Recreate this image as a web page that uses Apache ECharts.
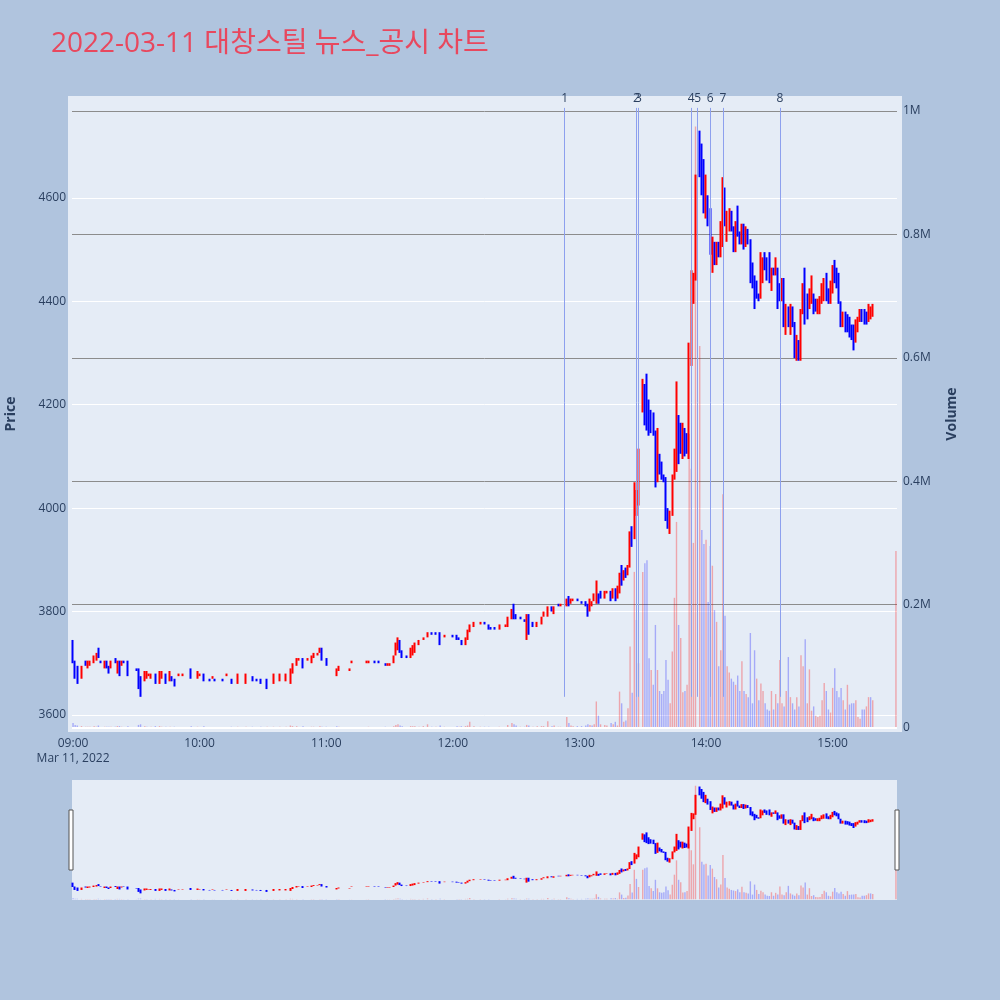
<!DOCTYPE html>
<html><head><meta charset="utf-8">
<script src="https://cdn.jsdelivr.net/npm/echarts@6/dist/echarts.min.js"></script>
<style>html,body{margin:0;padding:0;background:#b0c4de}#c{width:1000px;height:1000px}</style>
</head><body><div id="c"></div>
<script>
const titleText = '2022-03-11 대창스틸 뉴스_공시 차트';
const times = ['09:00','09:01','09:02','09:04','09:06','09:07','09:08','09:10','09:11','09:12','09:13','09:15','09:16','09:17','09:18','09:20','09:21','09:22','09:23','09:24','09:26','09:30','09:31','09:32','09:34','09:35','09:36','09:37','09:39','09:41','09:42','09:44','09:46','09:47','09:48','09:50','09:52','09:56','09:59',
'10:00','10:02','10:05','10:06','10:07','10:11','10:13','10:15','10:18','10:22','10:25','10:27','10:29','10:32','10:35','10:38','10:41','10:43','10:44','10:46','10:47','10:49','10:51','10:53','10:54','10:56','10:57','10:58',
'11:00','11:05','11:06','11:11','11:12','11:19','11:20','11:23','11:25','11:28','11:29','11:30','11:32','11:33','11:34','11:35','11:36','11:38','11:40','11:41','11:42','11:44','11:46','11:48','11:50','11:52','11:54','11:56',
'12:00','12:02','12:03','12:04','12:06','12:07','12:08','12:10','12:13','12:15','12:17','12:18','12:20','12:22','12:25','12:26','12:28','12:29','12:30','12:32','12:34','12:35','12:36','12:38','12:40','12:42','12:43','12:45','12:47','12:48','12:50','12:51','12:54','12:55','12:56','12:57','12:59',
'13:01','13:03','13:04','13:05','13:06','13:07','13:08','13:09','13:10','13:12','13:13','13:15','13:16','13:17','13:18','13:19','13:20','13:21','13:22','13:23','13:24','13:25','13:26','13:27','13:28','13:30','13:31','13:32','13:33','13:34','13:35','13:36','13:37','13:38','13:39','13:40','13:41','13:42','13:43','13:44','13:45','13:46','13:47','13:48','13:49','13:50','13:51','13:52','13:53','13:54','13:55','13:57','13:58','13:59',
'14:00','14:01','14:02','14:03','14:04','14:05','14:06','14:07','14:08','14:09','14:10','14:11','14:12','14:13','14:14','14:15','14:16','14:17','14:18','14:19','14:20','14:21','14:22','14:23','14:24','14:25','14:26','14:27','14:28','14:29','14:30','14:31','14:32','14:33','14:34','14:35','14:36','14:37','14:38','14:39','14:40','14:41','14:42','14:43','14:44','14:45','14:46','14:47','14:48','14:49','14:50','14:51','14:52','14:53','14:54','14:55','14:56','14:57','14:58','14:59',
'15:00','15:01','15:02','15:03','15:04','15:05','15:06','15:07','15:08','15:09','15:10','15:11','15:12','15:13','15:14','15:15','15:16','15:17','15:18','15:19','15:30'];
const opens = [3740,3705,3690,3675,3705,3690,3695,3700,3705,3725,3705,3690,3705,3695,3690,3710,3685,3705,3695,3705,3705,3690,3685,3670,3665,3670,3675,3670,3680,3660,3670,3680,3665,3675,3670,3675,3675,3690,3670,
3675,3680,3670,3670,3670,3670,3675,3670,3660,3660,3675,3670,3670,3670,3660,3665,3665,3660,3680,3695,3705,3710,3705,3700,3710,3715,3720,3725,
3710,3680,3685,3685,3700,3700,3700,3705,3705,3700,3695,3695,3700,3715,3725,3740,3725,3715,3710,3715,3720,3735,3745,3750,3760,3760,3755,3750,
3755,3755,3750,3745,3735,3745,3760,3770,3775,3780,3775,3770,3770,3765,3770,3770,3785,3810,3795,3790,3785,3750,3790,3780,3770,3775,3790,3790,3810,3795,3815,3810,3810,3830,3815,3820,3825,
3820,3820,3810,3800,3810,3820,3815,3835,3840,3825,3835,3840,3825,3845,3825,3840,3885,3860,3880,3870,3890,3960,3945,3990,4010,4195,4235,4210,4205,4185,4180,4140,4055,4100,4085,4060,4055,3995,3960,3990,4060,4090,4170,4160,4100,4150,4140,4100,4280,4400,4445,4725,4700,4670,
4565,4600,4575,4460,4510,4475,4510,4490,4510,4610,4520,4540,4570,4540,4500,4570,4530,4515,4545,4510,4535,4515,4470,4445,4435,4410,4410,4440,4490,4480,4490,4425,4460,4455,4460,4430,4405,4440,4340,4385,4340,4385,4355,4290,4320,4290,4380,4430,4410,4390,4400,4410,4400,4380,4380,4400,4405,4450,4420,4400,
4420,4475,4460,4450,4395,4355,4375,4370,4365,4350,4350,4325,4345,4365,4380,4380,4375,4365,4370,4375,4475];
const closes = [3705,3675,3665,3690,3695,3705,3705,3715,3720,3710,3700,3705,3690,3685,3705,3700,3705,3680,3705,3700,3675,3685,3655,3650,3685,3680,3680,3680,3660,3685,3685,3660,3685,3665,3655,3680,3680,3675,3680,
3680,3665,3665,3675,3665,3665,3680,3660,3680,3680,3665,3665,3660,3660,3680,3680,3680,3690,3700,3710,3710,3690,3710,3715,3720,3720,3730,3710,
3700,3690,3695,3690,3705,3705,3705,3700,3700,3695,3700,3700,3715,3740,3745,3720,3715,3710,3730,3735,3740,3745,3750,3760,3755,3755,3740,3755,
3750,3745,3745,3740,3750,3765,3775,3780,3780,3775,3765,3765,3765,3775,3775,3790,3805,3790,3785,3785,3780,3790,3765,3770,3780,3790,3800,3810,3800,3810,3810,3815,3825,3810,3825,3825,3820,
3815,3810,3795,3825,3820,3835,3840,3815,3825,3840,3840,3820,3845,3820,3850,3870,3855,3880,3870,3890,3950,3930,4045,4030,4110,4245,4165,4155,4150,4150,4145,4045,4150,4070,4060,4055,3980,3965,3990,4060,4110,4175,4090,4110,4160,4105,4110,4300,4440,4450,4640,4655,4610,4575,
4640,4550,4495,4520,4475,4510,4490,4550,4600,4550,4570,4575,4540,4500,4550,4530,4515,4545,4505,4540,4515,4440,4430,4400,4410,4405,4470,4480,4465,4445,4440,4460,4455,4480,4390,4405,4440,4360,4390,4355,4390,4355,4300,4330,4290,4380,4430,4360,4370,4420,4445,4380,4385,4400,4405,4430,4440,4405,4400,4435,
4465,4440,4430,4400,4355,4375,4345,4345,4335,4330,4320,4360,4365,4380,4365,4360,4360,4390,4385,4390,4475];
const lows = [3700,3670,3660,3670,3695,3690,3695,3700,3705,3710,3700,3690,3690,3680,3690,3700,3680,3675,3695,3700,3675,3685,3650,3635,3665,3670,3675,3670,3660,3660,3670,3660,3665,3665,3655,3675,3675,3670,3670,
3675,3665,3665,3670,3665,3665,3675,3660,3660,3660,3665,3665,3660,3650,3660,3665,3665,3660,3680,3695,3705,3690,3705,3700,3710,3715,3720,3705,
3695,3675,3685,3685,3700,3700,3700,3700,3700,3695,3695,3695,3700,3715,3725,3720,3710,3710,3710,3715,3720,3735,3745,3750,3755,3755,3735,3750,
3750,3745,3745,3735,3735,3745,3760,3770,3775,3775,3765,3765,3765,3765,3770,3770,3785,3785,3785,3785,3780,3745,3755,3770,3770,3775,3790,3790,3800,3795,3810,3810,3810,3810,3815,3820,3820,
3815,3810,3790,3800,3810,3820,3815,3815,3825,3825,3835,3820,3825,3820,3825,3835,3850,3860,3865,3870,3885,3925,3940,3985,4005,4185,4160,4150,4140,4145,4140,4040,4050,4065,4055,4050,3975,3960,3950,3985,4055,4070,4085,4105,4095,4100,4105,4095,4275,4395,4440,4640,4605,4570,
4560,4545,4490,4455,4470,4470,4485,4485,4505,4545,4515,4535,4535,4495,4495,4525,4510,4510,4500,4505,4510,4435,4425,4385,4405,4400,4405,4435,4460,4440,4435,4420,4450,4450,4385,4400,4400,4350,4335,4350,4335,4350,4290,4285,4285,4285,4375,4355,4365,4385,4395,4375,4380,4375,4375,4395,4400,4400,4395,4395,
4415,4435,4425,4395,4350,4350,4340,4340,4330,4325,4305,4320,4340,4360,4360,4355,4355,4360,4365,4370,4475];
const highs = [3745,3705,3695,3695,3705,3705,3705,3715,3720,3730,3705,3705,3705,3695,3705,3710,3705,3705,3705,3705,3705,3690,3690,3675,3685,3685,3680,3680,3680,3685,3685,3680,3685,3675,3670,3680,3680,3690,3685,
3680,3680,3670,3675,3670,3670,3680,3670,3680,3680,3675,3670,3670,3670,3680,3680,3680,3690,3700,3710,3710,3710,3710,3715,3720,3720,3730,3730,
3710,3690,3695,3690,3705,3705,3705,3705,3705,3700,3700,3700,3715,3740,3750,3745,3725,3715,3730,3735,3740,3745,3750,3760,3760,3760,3760,3755,
3755,3755,3750,3745,3750,3765,3775,3780,3780,3780,3775,3770,3770,3775,3775,3790,3805,3815,3795,3790,3785,3795,3795,3780,3780,3790,3800,3810,3810,3810,3815,3815,3825,3830,3825,3825,3825,
3820,3820,3815,3825,3820,3835,3860,3835,3840,3840,3840,3840,3845,3845,3850,3875,3890,3880,3885,3890,3955,3965,4050,4035,4115,4250,4240,4260,4210,4190,4185,4150,4155,4105,4090,4065,4060,4000,3995,4065,4115,4245,4180,4165,4165,4155,4145,4320,4460,4455,4645,4730,4705,4675,
4645,4605,4580,4525,4515,4515,4515,4555,4640,4620,4575,4580,4575,4545,4555,4585,4535,4550,4550,4545,4540,4520,4475,4450,4440,4415,4495,4485,4495,4485,4495,4465,4465,4485,4465,4435,4445,4445,4395,4390,4395,4390,4360,4335,4325,4385,4435,4465,4415,4425,4450,4415,4405,4405,4410,4435,4445,4455,4425,4440,
4470,4480,4465,4455,4400,4380,4380,4375,4370,4355,4355,4365,4370,4385,4385,4385,4380,4395,4390,4395,4475];
const volumes = [8000,5000,4000,3000,2000,2000,2000,3000,2000,4000,1000,2000,2000,2000,2000,2000,3000,3000,2000,1000,3000,1000,5000,6000,3000,2000,1000,2000,3000,3000,2000,2000,2000,1000,2000,1000,1000,3000,2000,
1000,3000,1000,1000,1000,1000,1000,2000,2000,2000,2000,1000,2000,2000,2000,2000,2000,4000,3000,3000,1000,3000,1000,2000,2000,1000,3000,2000,
2000,3000,2000,1000,1000,1000,2000,1000,1000,2000,1000,1000,3000,5000,6000,4000,3000,1000,3000,3000,3000,2000,3000,6000,2000,2000,4000,2000,
1000,3000,2000,3000,3000,4000,10000,3000,2000,2000,2000,1000,1000,2000,1000,5000,8000,6000,4000,2000,2000,5000,4000,2000,3000,3000,3000,11000,3000,4000,2000,2000,18000,8000,4000,3000,3000,
3000,4000,6000,5000,4000,6000,43000,20000,6000,5000,4000,8000,6000,10000,4000,59000,40000,10000,12000,32000,132000,57000,253000,175000,105000,253000,267000,272000,113000,94000,70000,167000,94000,60000,55000,60000,110000,78000,40000,124000,211000,334000,167000,146000,58000,60000,70000,477000,420000,300000,975000,619000,321000,298000,
305000,204000,295000,263000,191000,172000,100000,126000,379000,182000,100000,90000,80000,75000,70000,85000,60000,108000,60000,55000,50000,154000,40000,126000,80000,45000,72000,60000,40000,30000,28000,60000,30000,55000,40000,110000,40000,35000,60000,115000,50000,40000,30000,50000,35000,118000,100000,144000,40000,95000,28000,35000,20000,18000,20000,45000,73000,60000,30000,25000,
65000,97000,60000,50000,65000,45000,30000,70000,38000,40000,40000,45000,18000,15000,30000,30000,35000,50000,50000,45000,287000];
const newsTimes = ['12:53','13:27','13:28','13:53','13:56','14:02','14:08','14:35'];
const newsLabels = ['1','2','3','4','5','6','7','8'];
const dateLabel = 'Mar 11, 2022';

// full minute category axis 09:00 .. 15:30
const cats = [];
for (let m = 0; m <= 390; m++) {
  const h = 9 + Math.floor(m / 60), mm = m % 60;
  cats.push(String(h).padStart(2, '0') + ':' + String(mm).padStart(2, '0'));
}
const idx = {};
times.forEach((t, i) => idx[t] = i);
const candleData = cats.map(t => idx[t] === undefined ? '-' : [opens[idx[t]], closes[idx[t]], lows[idx[t]], highs[idx[t]]]);
const UPV = 'rgba(255,0,0,0.3)', DNV = 'rgba(0,0,255,0.28)';
const volData = cats.map(t => {
  const i = idx[t];
  if (i === undefined) return '-';
  const prev = i > 0 ? closes[i - 1] : opens[i];
  return { value: volumes[i], itemStyle: { color: closes[i] >= prev ? UPV : DNV } };
});

const PMIN = 3567, PMAX = 4797, VMIN = -6500, VMAX = 1024300;
const txt = '#2a3f5f';
const font = "'Open Sans', 'Noto Sans CJK KR', sans-serif";
const candleStyle = { color: '#ff0000', color0: '#0000ff', borderColor: '#ff0000', borderColor0: '#0000ff', borderColorDoji: '#ff0000', borderWidth: 2 };

const chart = echarts.init(document.getElementById('c'), null, { renderer: 'canvas' });
chart.setOption({
  animation: false,
  backgroundColor: '#b0c4de',
  textStyle: { fontFamily: font },
  title: { text: titleText, left: 46, top: 25, textStyle: { color: '#e8485e', fontSize: 28, fontWeight: 'normal', fontFamily: font } },
  graphic: [
    { type: 'rect', z: -10, shape: { x: 68, y: 96, width: 834, height: 636 }, style: { fill: '#e5ecf6' } },
    { type: 'rect', z: -10, shape: { x: 72, y: 780, width: 825, height: 120 }, style: { fill: '#e5ecf6' } },
    { type: 'rect', z: 100, shape: { x: 69, y: 810, width: 4, height: 60 }, style: { fill: '#ffffff', stroke: '#555', lineWidth: 1 } },
    { type: 'rect', z: 100, shape: { x: 895, y: 810, width: 4, height: 60 }, style: { fill: '#ffffff', stroke: '#555', lineWidth: 1 } }
  ],
  grid: [
    { left: 72, right: 103, top: 96, height: 636, outerBoundsMode: 'none', containLabel: false },
    { left: 72, right: 103, top: 780, height: 120, outerBoundsMode: 'none', containLabel: false }
  ],
  xAxis: [
    { type: 'category', gridIndex: 0, data: cats, boundaryGap: true,
      axisLine: { show: false }, axisTick: { show: false }, splitLine: { show: false },
      axisLabel: { color: txt, fontSize: 12, margin: 4, lineHeight: 15, interval: (i) => i % 60 === 0,
        formatter: (v, i) => i === 0 ? v + '\n' + dateLabel : v } },
    { type: 'category', gridIndex: 1, data: cats, boundaryGap: true, show: false }
  ],
  yAxis: [
    { type: 'value', gridIndex: 0, position: 'left', min: PMIN, max: PMAX, splitNumber: 6,
      axisLine: { show: false }, axisTick: { show: false },
      axisLabel: { color: txt, fontSize: 12, margin: 6, showMinLabel: false, showMaxLabel: false, formatter: v => String(v) },
      splitLine: { show: true, showMinLine: false, showMaxLine: false, lineStyle: { color: '#ffffff', width: 1 } },
      name: 'Price', nameLocation: 'middle', nameGap: 54, nameRotate: 90,
      nameTextStyle: { color: txt, fontSize: 14, fontWeight: 'bold' } },
    { type: 'value', gridIndex: 0, position: 'right', min: VMIN, max: VMAX, splitNumber: 5,
      axisLine: { show: false }, axisTick: { show: false },
      axisLabel: { color: txt, fontSize: 12, margin: 6, showMinLabel: false, showMaxLabel: false,
        formatter: v => v === 0 ? '0' : (v / 1e6) + 'M' },
      splitLine: { show: true, showMinLine: false, showMaxLine: false, lineStyle: { color: '#8c8c8c', width: 1 } },
      name: 'Volume', nameLocation: 'middle', nameGap: 48, nameRotate: 90,
      nameTextStyle: { color: txt, fontSize: 14, fontWeight: 'bold' } },
    { type: 'value', gridIndex: 1, min: PMIN, max: PMAX, show: false, splitLine: { show: false } },
    { type: 'value', gridIndex: 1, min: VMIN, max: VMAX, show: false, splitLine: { show: false } }
  ],
  series: [
    { type: 'bar', name: 'Volume', xAxisIndex: 0, yAxisIndex: 1, data: volData, barWidth: 1.4, z: 1,
      markLine: { silent: true, symbol: ['none', 'none'], animation: false, label: { show: false },
        lineStyle: { color: '#ffffff', width: 2, type: 'solid' }, data: [{ yAxis: 0 }] } },
    { type: 'line', name: 'news', xAxisIndex: 0, yAxisIndex: 0, data: [], z: 2,
      markLine: { silent: true, symbol: ['none', 'none'], animation: false,
        lineStyle: { color: '#8da0ee', width: 1, type: 'solid' },
        label: { show: true, position: 'start', formatter: '{b}', color: txt, fontSize: 12, distance: 3 },
        data: newsTimes.map((t, i) => [{ coord: [t, 4774], name: newsLabels[i] }, { coord: [t, 3635] }]) } },
    { type: 'candlestick', name: 'Price', xAxisIndex: 0, yAxisIndex: 0, data: candleData, barWidth: 1, z: 3, itemStyle: candleStyle },
    { type: 'bar', xAxisIndex: 1, yAxisIndex: 3, data: volData, barWidth: 1.4, z: 1 },
    { type: 'candlestick', xAxisIndex: 1, yAxisIndex: 2, data: candleData, barWidth: 1, z: 3, itemStyle: candleStyle }
  ]
});
</script></body></html>
